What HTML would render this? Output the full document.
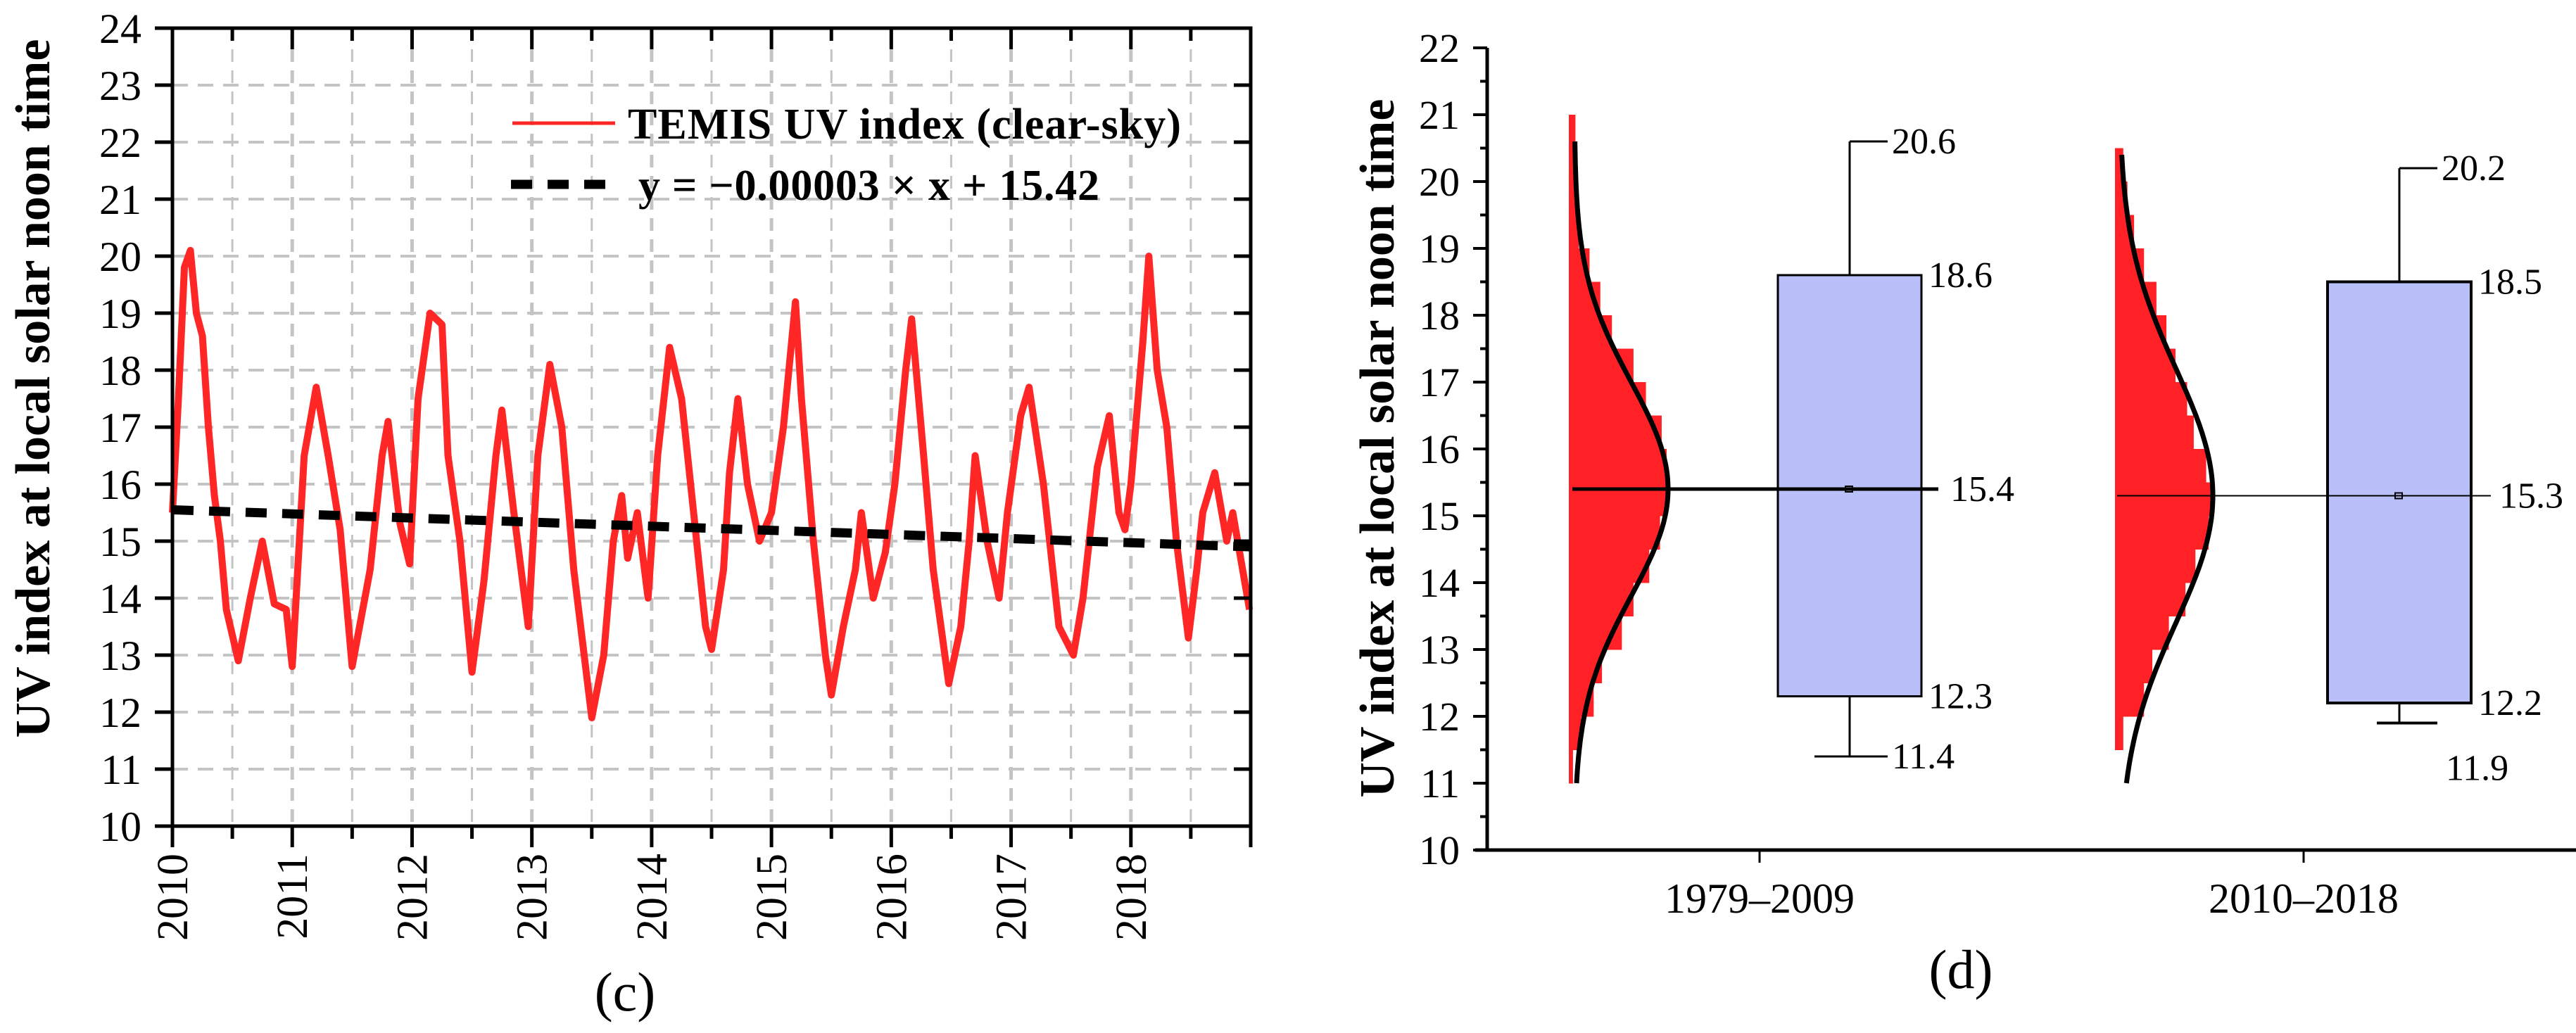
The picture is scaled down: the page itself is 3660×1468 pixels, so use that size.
<!DOCTYPE html>
<html><head><meta charset="utf-8"><style>
html,body{margin:0;padding:0;background:#fff;}
svg{display:block;}
text{font-family:"Liberation Serif",serif;fill:#000;}
</style></head><body>
<svg id="fig" width="3660" height="1468" viewBox="0 0 3660 1468" xmlns="http://www.w3.org/2000/svg">
<g id="c"></g>
<g id="d"></g>
</svg>
<script>
// ---------- Panel (c) data ----------
const cYears = [2010.0,2010.05,2010.1,2010.15,2010.2,2010.25,2010.3,2010.35,2010.4,2010.45,2010.55,2010.65,2010.75,2010.85,2010.95,2011.0,2011.1,2011.2,2011.3,2011.4,2011.5,2011.65,2011.75,2011.8,2011.9,2011.98,2012.05,2012.15,2012.25,2012.3,2012.4,2012.5,2012.6,2012.7,2012.75,2012.85,2012.97,2013.05,2013.15,2013.25,2013.35,2013.5,2013.6,2013.68,2013.75,2013.8,2013.88,2013.97,2014.05,2014.15,2014.25,2014.35,2014.45,2014.5,2014.6,2014.65,2014.72,2014.8,2014.9,2015.0,2015.1,2015.2,2015.25,2015.35,2015.45,2015.5,2015.6,2015.7,2015.75,2015.85,2015.95,2016.03,2016.12,2016.17,2016.27,2016.35,2016.48,2016.58,2016.65,2016.7,2016.8,2016.9,2016.97,2017.08,2017.15,2017.27,2017.4,2017.52,2017.6,2017.72,2017.82,2017.9,2017.95,2018.0,2018.1,2018.15,2018.22,2018.3,2018.38,2018.48,2018.55,2018.6,2018.7,2018.8,2018.85,2018.99];
const cValues = [15.5,17.5,19.8,20.1,19.0,18.6,17.0,15.8,15.0,13.8,12.9,14.0,15.0,13.9,13.8,12.8,16.5,17.7,16.5,15.2,12.8,14.5,16.5,17.1,15.3,14.6,17.5,19.0,18.8,16.5,15.0,12.7,14.3,16.5,17.3,15.5,13.5,16.5,18.1,17.0,14.5,11.9,13.0,15.0,15.8,14.7,15.5,14.0,16.5,18.4,17.5,15.5,13.5,13.1,14.5,16.2,17.5,16.0,15.0,15.5,17.0,19.2,17.5,15.0,13.0,12.3,13.5,14.5,15.5,14.0,14.8,16.0,18.0,18.9,16.5,14.5,12.5,13.5,15.0,16.5,15.0,14.0,15.5,17.2,17.7,16.0,13.5,13.0,14.0,16.3,17.2,15.5,15.2,16.0,18.5,20.0,18.0,17.0,15.0,13.3,14.5,15.5,16.2,15.0,15.5,13.8];
const cTrend = [15.55, 14.90]; // values at 2010 and 2019
const cYTicks = [10,11,12,13,14,15,16,17,18,19,20,21,22,23,24];
const cXTicks = [2010,2011,2012,2013,2014,2015,2016,2017,2018];

// ---------- Panel (d) data ----------
const dCategories = ["1979\u20132009","2010\u20132018"];
const dMin = [11.4, 11.9];
const dQ1 = [12.3, 12.2];
const dMean = [15.4, 15.3];
const dQ3 = [18.6, 18.5];
const dMax = [20.6, 20.2];
const dSigma = [1.6, 1.9];
const dCurveRange = [[11.0,20.6],[11.0,20.4]];
const dBinStarts = [11.0,11.5,12.0,12.5,13.0,13.5,14.0,14.5,15.0,15.5,16.0,16.5,17.0,17.5,18.0,18.5,19.0,19.5,20.0,20.5];
const dHist1 = [5,15,30,40,64,78,97,110,118,118,112,93,78,52,38,25,12,10,10,8];
const dHist2 = [0,10,35,45,65,85,97,113,117,110,95,87,73,62,50,35,23,15,10,0];
const dYTicks = [10,11,12,13,14,15,16,17,18,19,20,21,22];

const NS="http://www.w3.org/2000/svg";
function mk(parent, tag, attrs, txt){
  const e=document.createElementNS(NS,tag);
  for(const k in attrs) e.setAttribute(k,attrs[k]);
  if(txt!==undefined) e.textContent=txt;
  parent.appendChild(e); return e;
}

// ===== Panel C =====
(function(){
  const g=document.getElementById('c');
  const L=245,R=1777,T=40,B=1174;
  const x=v=>L+(v-2010)/9*(R-L);
  const y=v=>B-(v-10)/14*(B-T);
  for(let yr=2010; yr<2019; yr+=0.5){
    if(yr===2010) continue;
    const gl=mk(g,'line',{x1:x(yr),x2:x(yr),y1:T,y2:B,stroke:'#c4c4c4','stroke-width':yr%1===0?5:3,'stroke-dasharray':'18,12'});
    
    
  }
  cYTicks.forEach(v=>{
    if(v===10||v===24) return;
    const gl=mk(g,'line',{x1:L,x2:R,y1:y(v),y2:y(v),stroke:'#c4c4c4','stroke-width':4,'stroke-dasharray':'22,14'});
    
    
  });
  const pts=cYears.map((t,i)=>x(t).toFixed(1)+','+y(cValues[i]).toFixed(1)).join(' ');
  const pl=mk(g,'polyline',{points:pts,fill:'none',stroke:'#ff2626','stroke-width':10,'stroke-linejoin':'round'});
  
  
  const tl=mk(g,'line',{x1:x(2010),y1:y(cTrend[0]),x2:x(2019),y2:y(cTrend[1]),stroke:'#000','stroke-width':13,'stroke-dasharray':'30,22'});
  
  
  const fr=mk(g,'rect',{x:L,y:T,width:R-L,height:B-T,fill:'none',stroke:'#000','stroke-width':5});
  
  
  cYTicks.forEach(v=>{
    mk(g,'line',{x1:L-25,x2:L,y1:y(v),y2:y(v),stroke:'#000','stroke-width':5});
    mk(g,'line',{x1:R-24,x2:R,y1:y(v),y2:y(v),stroke:'#000','stroke-width':5});
    const t=mk(g,'text',{x:201,y:y(v)+21,'text-anchor':'end','font-size':60},String(v));
    
    
  });
  for(let yr=2010; yr<=2019; yr+=0.5){
    const major=yr%1===0;
    mk(g,'line',{x1:x(yr),x2:x(yr),y1:B,y2:B+(major?30:18),stroke:'#000','stroke-width':5});
    mk(g,'line',{x1:x(yr),x2:x(yr),y1:T,y2:T+(major?30:18),stroke:'#000','stroke-width':5});
  }
  cXTicks.forEach(yr=>{
    const t=mk(g,'text',{x:0,y:0,'text-anchor':'end','font-size':62,transform:`translate(${x(yr)+21},1213) rotate(-90)`},String(yr));
    
    
  });
  const yt=mk(g,'text',{x:0,y:0,'text-anchor':'middle','font-size':70,'font-weight':'bold',transform:'translate(70,552) rotate(-90)'},'UV index at local solar noon time');
  
  
  mk(g,'line',{x1:728,x2:874,y1:175,y2:175,stroke:'#ff2626','stroke-width':5});
  const l1=mk(g,'text',{x:892,y:197,'font-size':62,'font-weight':'bold',textLength:786},'TEMIS UV index (clear-sky)');
  
  
  mk(g,'line',{x1:726,x2:874,y1:262,y2:262,stroke:'#000','stroke-width':13,'stroke-dasharray':'30,22'});
  const l2=mk(g,'text',{x:907,y:284,'font-size':62,'font-weight':'bold',textLength:655},'y = \u22120.00003 \u00d7 x + 15.42');
  
  
  const pc=mk(g,'text',{x:888,y:1436,'text-anchor':'middle','font-size':78},'(c)');
  
  
})();

// ===== Panel D =====
(function(){
  const g=document.getElementById('d');
  const L=2113,B=1208,T=68;
  const y=v=>B-(v-10)*95;
  const catX=[2500,3273];
  const halfBox=102;
  const histLeft=[2229,3005];
  const curveLeft=[2237,3011];
  const pxPerCount=139/118;
  const curvePeak=133;
  [dHist1,dHist2].forEach((h,k)=>{
    h.forEach((c,i)=>{
      if(c<=0) return;
      const r=mk(g,'rect',{x:histLeft[k],y:y(dBinStarts[i]+0.5),width:c*pxPerCount,height:95*0.5+0.5,fill:'#ff2126'});
      
      
    });
  });
  [0,1].forEach(k=>{
    const lo=dCurveRange[k][0], hi=dCurveRange[k][1];
    let p=[];
    for(let v=lo; v<=hi+1e-9; v+=0.05){
      const w=curvePeak*Math.exp(-Math.pow(v-dMean[k],2)/(2*dSigma[k]*dSigma[k]));
      p.push((curveLeft[k]+w).toFixed(1)+','+y(v).toFixed(1));
    }
    const c=mk(g,'polyline',{points:p.join(' '),fill:'none',stroke:'#000','stroke-width':7});
    
    
  });
  const boxCx=[2628,3409];
  [0,1].forEach(k=>{
    const cx=boxCx[k];
    mk(g,'line',{x1:cx,x2:cx,y1:y(dMax[k]),y2:y(dQ3[k]),stroke:'#000','stroke-width':3});
    mk(g,'line',{x1:cx,x2:cx,y1:y(dQ1[k]),y2:y(dMin[k]),stroke:'#000','stroke-width':3});
    mk(g,'line',{x1:cx,x2:cx+54,y1:y(dMax[k]),y2:y(dMax[k]),stroke:'#000','stroke-width':3});
    mk(g,'line',{x1:cx-(k?32:50),x2:cx+54,y1:y(dMin[k]),y2:y(dMin[k]),stroke:'#000','stroke-width':k?4:3});
    const b=mk(g,'rect',{x:cx-halfBox,y:y(dQ3[k]),width:halfBox*2,height:y(dQ1[k])-y(dQ3[k]),fill:'#b9bff8',stroke:'#000','stroke-width':k?4:3});
    
    
    mk(g,'line',{x1:curveLeft[k]-3,x2:cx+(k?130:126),y1:y(dMean[k]),y2:y(dMean[k]),stroke:'#000','stroke-width':k?2:5});
    mk(g,'rect',{x:cx-6,y:y(dMean[k])-4,width:10,height:8,fill:'none',stroke:'#000','stroke-width':2});
    const lab=(txt,lx,vy,name)=>{const t=mk(g,'text',{x:lx,y:vy+17,'font-size':52},txt);
      
      };
    lab(dMax[k].toFixed(1),cx+60,y(dMax[k]),'max-label');
    lab(dQ3[k].toFixed(1),cx+halfBox+10,y(dQ3[k]),'q3-label');
    lab(dQ1[k].toFixed(1),cx+halfBox+10,y(dQ1[k]),'q1-label');
    lab(dMean[k].toFixed(1),cx+(k?142:143),y(dMean[k]),'mean-label');
    if(k===0) lab(dMin[k].toFixed(1),cx+60,y(dMin[k]),'min-label');
    else lab(dMin[k].toFixed(1),cx+66,y(dMin[k])+64,'min-label');
  });
  const ya=mk(g,'line',{x1:L,x2:L,y1:T,y2:B,stroke:'#000','stroke-width':5});
  
  
  const xa=mk(g,'line',{x1:2096,x2:3660,y1:B,y2:B,stroke:'#000','stroke-width':5});
  
  
  for(let v=10; v<=22; v+=0.5){
    const major=v%1===0;
    mk(g,'line',{x1:L-(major?20:10),x2:L,y1:y(v),y2:y(v),stroke:'#000','stroke-width':4});
  }
  dYTicks.forEach(v=>{
    const t=mk(g,'text',{x:2074,y:y(v)+20,'text-anchor':'end','font-size':58},String(v));
    
    
  });
  dCategories.forEach((c,i)=>{
    mk(g,'line',{x1:catX[i],x2:catX[i],y1:B,y2:B+18,stroke:'#000','stroke-width':3});
    const t=mk(g,'text',{x:catX[i],y:1297,'text-anchor':'middle','font-size':60},c);
    
    
  });
  const yt=mk(g,'text',{x:0,y:0,'text-anchor':'middle','font-size':70,'font-weight':'bold',transform:'translate(1980,637) rotate(-90)'},'UV index at local solar noon time');
  
  
  const pd=mk(g,'text',{x:2786,y:1404,'text-anchor':'middle','font-size':78},'(d)');
  
  
})();
</script>
</body></html>
